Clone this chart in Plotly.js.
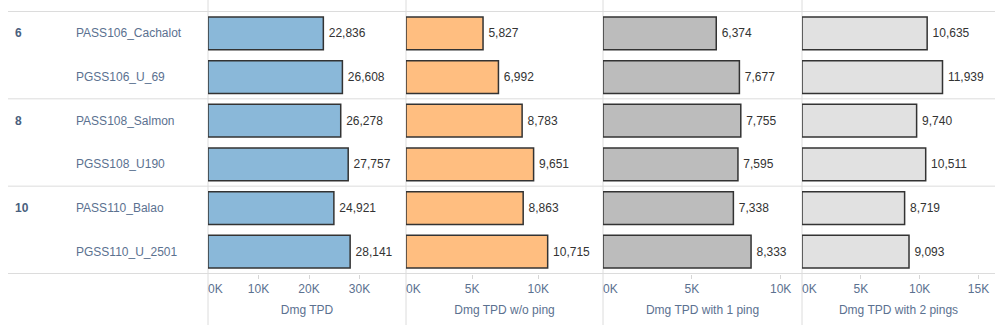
<!DOCTYPE html>
<html>
<head>
<meta charset="utf-8">
<script src="https://cdn.plot.ly/plotly-3.0.1.min.js"></script>
<style>html,body{margin:0;padding:0;background:#fff;}#chart{width:1002px;height:325px;}</style>
</head>
<body>
<div id="chart"></div>
<script>
// ---- data ----
const groups = ['6', '8', '10'];
const boats = ['PASS106_Cachalot', 'PGSS106_U_69', 'PASS108_Salmon', 'PGSS108_U190', 'PASS110_Balao', 'PGSS110_U_2501'];
const boatGroup = ['6', '6', '8', '8', '10', '10'];
const dmgTPD = [22836, 26608, 26278, 27757, 24921, 28141];
const dmgNoPing = [5827, 6992, 8783, 9651, 8863, 10715];
const dmgOnePing = [6374, 7677, 7755, 7595, 7338, 8333];
const dmgTwoPings = [10635, 11939, 9740, 10511, 8719, 9093];
const measureTitles = ['Dmg TPD', 'Dmg TPD w/o ping', 'Dmg TPD with 1 ping', 'Dmg TPD with 2 pings'];
const tickVals1 = [10000, 20000, 30000], tickText1 = ['10K', '20K', '30K'];
const tickVals2 = [5000, 10000], tickText2 = ['5K', '10K'];
const tickVals3 = [5000, 10000], tickText3 = ['5K', '10K'];
const tickVals4 = [5000, 10000, 15000], tickText4 = ['5K', '10K', '15K'];
const zeroLabel = '0K';

// ---- layout helpers ----
const W = 1002, H = 325;
const px = v => v / W;
const py = v => (H - v) / H;
const panelEdges = [208, 406, 603, 802, 995];
const ranges = [[0, 39200], [0, 14900], [0, 11200], [0, 16400]];
const colors = ['#8ab8d9', '#ffbe80', '#bcbcbc', '#e1e1e1'];
const series = [dmgTPD, dmgNoPing, dmgOnePing, dmgTwoPings];
const tickV = [tickVals1, tickVals2, tickVals3, tickVals4];
const tickT = [tickText1, tickText2, tickText3, tickText4];
const FONT = '"Liberation Sans", Arial, sans-serif';
const LABEL_COLOR = '#5b7190';

const fmt = v => '\u2009' + v.toLocaleString('en-US');

const traces = series.map((vals, i) => ({
  type: 'bar',
  orientation: 'h',
  x: vals,
  y: boats,
  xaxis: i === 0 ? 'x' : 'x' + (i + 1),
  yaxis: 'y',
  width: 0.75,
  marker: {color: colors[i], line: {color: '#333333', width: 1.5}},
  text: vals.map(fmt),
  textposition: 'outside',
  textfont: {family: FONT, size: 12, color: '#333333'},
  cliponaxis: false,
  hoverinfo: 'x+y',
  showlegend: false
}));

const layout = {
  width: W, height: H,
  margin: {l: 0, r: 0, t: 0, b: 0},
  paper_bgcolor: '#ffffff',
  plot_bgcolor: 'rgba(0,0,0,0)',
  font: {family: FONT, size: 12, color: LABEL_COLOR},
  bargap: 0.25,
  yaxis: {
    domain: [py(274), py(11)],
    type: 'category',
    autorange: 'reversed',
    showticklabels: false,
    showgrid: false, zeroline: false, showline: false, ticks: '',
    anchor: 'x'
  },
  shapes: [],
  annotations: []
};

for (let i = 0; i < 4; i++) {
  const key = i === 0 ? 'xaxis' : 'xaxis' + (i + 1);
  layout[key] = {
    domain: [px(panelEdges[i]), px(panelEdges[i + 1])],
    range: ranges[i],
    anchor: 'y',
    showgrid: false, zeroline: false, showline: false,
    ticks: 'outside', ticklen: 4, tickcolor: '#d6d6d6', tickwidth: 1,
    tickvals: tickV[i], ticktext: tickT[i],
    tickfont: {family: FONT, size: 12, color: LABEL_COLOR},
    title: {text: measureTitles[i], font: {family: FONT, size: 12, color: LABEL_COLOR}, standoff: 10},
    fixedrange: true
  };
  layout.annotations.push({
    xref: 'paper', yref: 'paper',
    x: px(panelEdges[i] - 2), y: py(289),
    xanchor: 'left', yanchor: 'middle',
    text: zeroLabel, showarrow: false,
    font: {family: FONT, size: 12, color: LABEL_COLOR}
  });
}

// horizontal separators between groups
[-0.5, 1.5, 3.5, 5.5].forEach(yv => {
  layout.shapes.push({
    type: 'line', xref: 'paper', yref: 'y',
    x0: px(8), x1: px(995), y0: yv, y1: yv,
    line: {color: '#dcdcdc', width: 1}, layer: 'below'
  });
});
// vertical panel lines
panelEdges.slice(0, 4).forEach(xv => {
  layout.shapes.push({
    type: 'line', xref: 'paper', yref: 'paper',
    x0: px(xv), x1: px(xv), y0: 0, y1: 1,
    line: {color: '#dcdcdc', width: 1}, layer: 'below'
  });
});

// row headers
boats.forEach((b, i) => {
  layout.annotations.push({
    xref: 'paper', yref: 'y', x: px(74), y: b,
    xanchor: 'left', yanchor: 'middle', text: b, showarrow: false,
    font: {family: FONT, size: 12, color: LABEL_COLOR}
  });
});
groups.forEach(g => {
  const first = boats[boatGroup.indexOf(g)];
  layout.annotations.push({
    xref: 'paper', yref: 'y', x: px(13), y: first,
    xanchor: 'left', yanchor: 'middle', text: '<b>' + g + '</b>', showarrow: false,
    font: {family: FONT, size: 12, color: '#4a5f7e'}
  });
});

Plotly.newPlot('chart', traces, layout, {displayModeBar: false, staticPlot: true});
</script>
</body>
</html>
